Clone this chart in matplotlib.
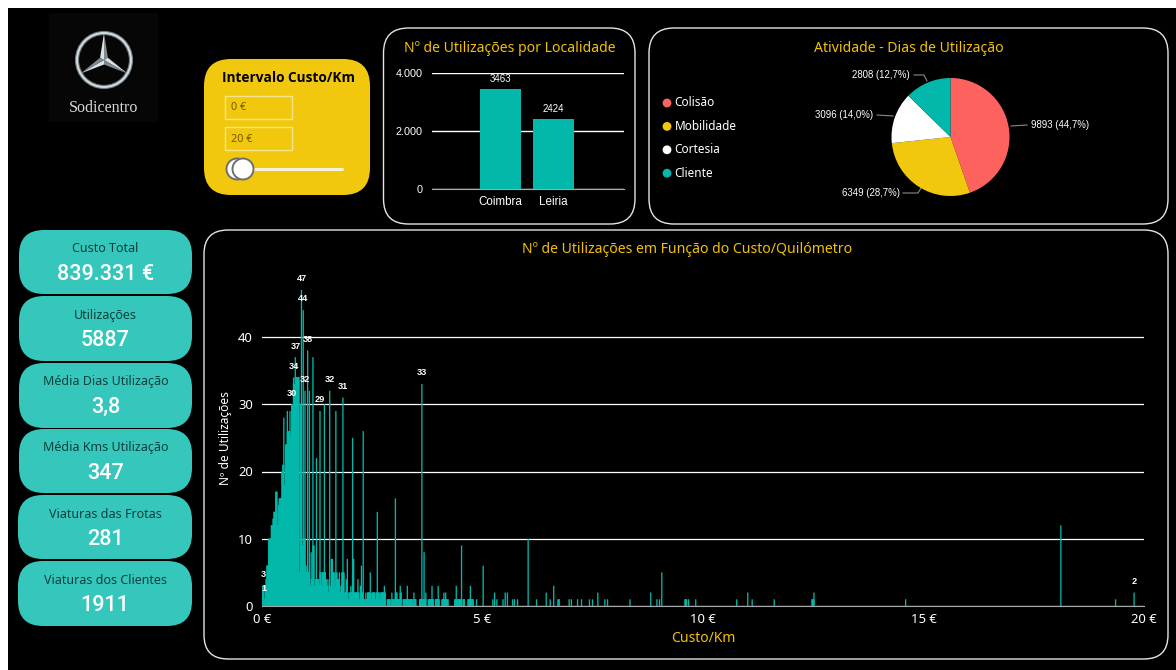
import numpy as np
import matplotlib
matplotlib.use("Agg")
import matplotlib.pyplot as plt
from matplotlib.patches import FancyBboxPatch, Circle, Polygon, Rectangle

plt.rcParams['font.family'] = ['Noto Sans', 'DejaVu Sans']

# ---- data -----------------------------------------------------------------
kpi_labels = ["Custo Total", "Utilizações", "Média Dias Utilização",
              "Média Kms Utilização", "Viaturas das Frotas", "Viaturas dos Clientes"]
kpi_values = ["839.331 €", "5887", "3,8", "347", "281", "1911"]

localities = ["Coimbra", "Leiria"]
locality_uses = [3463, 2424]
locality_ticks = [0, 2000, 4000]
locality_tick_labels = ["0", "2.000", "4.000"]

activities = ["Colisão", "Mobilidade", "Cortesia", "Cliente"]
activity_days = [9893, 6349, 3096, 2808]
activity_pcts = ["44,7%", "28,7%", "14,0%", "12,7%"]

# uses per cost bin, 0.02 € apart, from 0 € up to 2.78 €
dense_uses = [
    3, 3, 1, 3, 4, 6, 6, 10, 10, 10, 12, 12, 13, 14, 14, 17, 17, 12, 15, 16,
    16, 16, 20, 21, 28, 18, 24, 24, 29, 26, 26, 29, 25, 30, 30, 34, 33, 37, 34, 34,
    34, 34, 5, 30, 47, 9, 44, 10, 32, 6, 5, 38, 5, 32, 3, 8, 4, 37, 9, 3,
    4, 22, 4, 4, 3, 29, 5, 3, 5, 5, 30, 5, 4, 3, 4, 2, 32, 3, 7, 7,
    5, 5, 3, 29, 5, 4, 4, 5, 2, 3, 5, 31, 5, 2, 2, 4, 7, 1, 2, 2,
    3, 2, 25, 7, 2, 2, 2, 2, 4, 2, 1, 3, 6, 2, 26, 1, 1, 2, 1, 2,
    2, 2, 5, 1, 2, 2, 2, 2, 1, 2, 14, 2, 2, 1, 2, 2, 2, 2, 3, 2,
]
# individually read bins above 2.80 €
sparse_costs = [
    2.83, 2.86, 2.89, 2.93, 2.96, 2.98, 3.01, 3.04, 3.07, 3.10, 3.12, 3.14,
    3.19, 3.22, 3.25, 3.28, 3.31, 3.34, 3.36, 3.39, 3.43, 3.45, 3.47,
    3.56, 3.58, 3.61, 3.63, 3.66, 3.68, 3.70, 3.76, 3.79, 3.82, 3.84, 3.87,
    3.92, 3.95, 3.98, 4.00, 4.07, 4.09, 4.11, 4.13, 4.15, 4.17, 4.20,
    4.36, 4.39, 4.42, 4.45, 4.48, 4.51, 4.55, 4.57, 4.66, 4.69, 4.71, 4.73, 4.75, 4.77,
    4.85, 5.00, 5.22, 5.26, 5.31, 5.45, 5.50, 5.55, 5.67, 5.71, 5.78, 6.02, 6.21,
    6.43, 6.52, 6.60, 6.70, 6.72, 6.95, 7.00, 7.14, 7.23, 7.41, 7.48, 7.60, 7.76, 7.82,
    8.33, 8.80, 8.94, 9.00, 9.05, 9.58, 9.61, 9.66, 9.82, 10.75, 11.00, 11.10, 11.60,
    12.46, 12.50, 14.58, 18.10, 19.34, 19.76,
]
sparse_uses = [
    1, 1, 1, 2, 1, 1, 16, 2, 1, 1, 3, 2,
    1, 1, 1, 3, 1, 1, 1, 1, 2, 1, 1,
    1, 1, 33, 1, 8, 1, 2, 1, 1, 1, 3, 1,
    1, 1, 3, 1, 1, 1, 2, 1, 2, 1, 1,
    1, 3, 1, 1, 1, 9, 1, 1, 1, 1, 3, 1, 1, 1,
    1, 6, 1, 2, 1, 1, 2, 2, 1, 1, 1, 10, 1,
    2, 1, 3, 1, 1, 1, 1, 1, 1, 1, 1, 2, 1, 1,
    1, 2, 1, 1, 5, 1, 1, 1, 1, 1, 2, 1, 1,
    1, 2, 1, 12, 1, 2,
]
labelled_costs = [0.02, 0.04, 0.66, 0.70, 0.74, 0.88, 0.92, 0.96, 1.02,
                  1.30, 1.52, 1.82, 3.61, 19.76]
cost_ticks = [0, 5, 10, 15, 20]
cost_tick_labels = ["0 €", "5 €", "10 €", "15 €", "20 €"]
use_ticks = [0, 10, 20, 30, 40]

# ---- palette and fonts ----------------------------------------------------
TEAL = "#01B8AA"
CARD = "#35C7BC"
YELLOW = "#F2C80F"
RED = "#FD625E"
TITLE = "#F2C200"
NARROW = ['Liberation Sans', 'DejaVu Sans']
W, H = 1176, 670

fig = plt.figure(figsize=(W / 100, H / 100), dpi=100, facecolor="white")
page = fig.add_axes([0, 0, 1, 1], zorder=0)
page.set_xlim(0, W)
page.set_ylim(H, 0)
page.axis("off")


def chart_axes(x0, y0, x1, y1):
    """Axes placed by its pixel box, measured from the top left corner."""
    ax = fig.add_axes([x0 / W, 1 - y1 / H, (x1 - x0) / W, (y1 - y0) / H], zorder=2)
    ax.set_facecolor("none")
    for s in ax.spines.values():
        s.set_visible(False)
    return ax


def panel(x0, y0, x1, y1, r, fc="black", ec="none", lw=1.0):
    page.add_patch(FancyBboxPatch((x0, y0), x1 - x0, y1 - y0,
                                  boxstyle=f"round,pad=0,rounding_size={r}",
                                  fc=fc, ec=ec, lw=lw))


page.add_patch(Rectangle((8, 8), W, H, fc="black", ec="none"))

# ---- logo -----------------------------------------------------------------
page.add_patch(Rectangle((49, 13), 109, 109, fc="#060606", ec="none"))
cx, cy = 104, 60
page.add_patch(Circle((cx, cy), 27, fc="none", ec="#6F7B80", lw=3.0))
page.add_patch(Circle((cx, cy), 27, fc="none", ec="#D5DBDD", lw=1.4))
for ang in (90, 210, 330):
    a = np.radians(ang)
    tip = (cx + 27 * np.cos(a), cy - 27 * np.sin(a))
    left = (cx + 4.5 * np.cos(a + np.pi / 3), cy - 4.5 * np.sin(a + np.pi / 3))
    right = (cx + 4.5 * np.cos(a - np.pi / 3), cy - 4.5 * np.sin(a - np.pi / 3))
    page.add_patch(Polygon([(cx, cy), left, tip], fc="#DCE2E4", ec="none"))
    page.add_patch(Polygon([(cx, cy), right, tip], fc="#7F8C91", ec="none"))
page.text(104, 108.5, "Sodicentro", color="#D8D8D8", fontsize=11.5,
          family=['Liberation Serif', 'DejaVu Serif'], ha="center", va="center")

# ---- cost range slicer ----------------------------------------------------
panel(204, 59, 370, 195, 27, fc=YELLOW)
page.text(288, 78, "Intervalo Custo/Km", color="black", fontsize=9.8,
          fontweight="bold", family=['Open Sans', 'DejaVu Sans'], ha="center", va="center")
for y0, txt in ((96, "0 €"), (127, "20 €")):
    page.add_patch(Rectangle((224.5, y0), 67.5, 23, fc="none", ec="#F6E58E", lw=1.0))
    page.text(231, y0 + 12, txt, color="#6E5B00", fontsize=7.8, ha="left", va="center")
page.plot([240, 342], [169, 169], color="#F4F1DC", lw=2.2, solid_capstyle="round")
for tx in (237, 243):
    page.add_patch(Circle((tx, 169), 10.5, fc="white", ec="#6E6E6E", lw=1.4, zorder=3))

# ---- KPI cards ------------------------------------------------------------
card_boxes = [(19, 230, 192, 294), (19, 296, 192, 361), (19, 363, 192, 428),
              (19, 429, 192, 493), (18, 495, 192, 559), (18, 561, 192, 626)]
for (x0, y0, x1, y1), lab, val in zip(card_boxes, kpi_labels, kpi_values):
    panel(x0, y0, x1, y1, 25, fc=CARD)
    mid = (x0 + x1) / 2
    page.text(mid, y0 + 19, lab, color="#0E3F3C", fontsize=9, ha="center", va="center")
    page.text(mid, y0 + 44.5, val, color="white", fontsize=15.5, fontweight="medium",
              family=['Roboto', 'DejaVu Sans'], ha="center", va="center")

# ---- framed panels --------------------------------------------------------
panel(383.5, 28, 635, 224, 25, ec="#E4E4E4")
panel(649, 28, 1168, 224, 25, ec="#E4E4E4")
panel(204, 230, 1168, 659, 24, ec="#E4E4E4")

page.text(510, 48.5, "Nº de Utilizações por Localidade", color=TITLE, fontsize=10.1,
          ha="center", va="center")
page.text(909, 48.5, "Atividade - Dias de Utilização", color=TITLE, fontsize=10.1,
          ha="center", va="center")
page.text(687, 249.5, "Nº de Utilizações em Função do Custo/Quilómetro", color=TITLE,
          fontsize=10.1, ha="center", va="center")

# ---- uses per locality ----------------------------------------------------
ax_bar = chart_axes(432, 73, 624, 189)
pos = np.arange(len(localities))
ax_bar.bar(pos, locality_uses, width=0.764, color=TEAL, zorder=3)
ax_bar.set_xlim(-1.292, 2.33)
ax_bar.set_ylim(0, 4000)
ax_bar.set_xticks(pos, localities)
ax_bar.set_yticks(locality_ticks, locality_tick_labels)
ax_bar.grid(axis="y", color="white", lw=1.0, zorder=1)
ax_bar.set_axisbelow(True)
ax_bar.tick_params(length=0, colors="white")
ax_bar.tick_params(axis="y", pad=6.5)
ax_bar.tick_params(axis="x", pad=5)
ax_bar.spines["bottom"].set_visible(True)
ax_bar.spines["bottom"].set_color("#A8A8A8")
for lbl in ax_bar.get_xticklabels():
    lbl.set_family(NARROW)
    lbl.set_fontsize(8.4)
for lbl in ax_bar.get_yticklabels():
    lbl.set_family(NARROW)
    lbl.set_fontsize(7.8)
for x, v in zip(pos, locality_uses):
    ax_bar.annotate(str(v), (x, v), xytext=(0, 7), textcoords="offset points",
                    color="white", fontsize=7.0, family=NARROW, ha="center", va="center",
                    clip_on=False)

# ---- activity pie ---------------------------------------------------------
ax_pie = chart_axes(891.5, 78, 1009.5, 196)
ax_pie.pie(activity_days, colors=[RED, YELLOW, "white", TEAL], startangle=90,
           counterclock=False, radius=1.0)
ax_pie.set_xlim(-1, 1)
ax_pie.set_ylim(-1, 1)
ax_pie.set_aspect("equal")

for i, name in enumerate(activities):
    y = 103 + i * 23.4
    page.add_patch(Circle((667, y), 4.4, fc=[RED, YELLOW, "white", TEAL][i], ec="none"))
    page.text(674.5, y, name, color="white", fontsize=8.5, ha="left", va="center")

# label anchor and leader polyline, in layout pixels
pie_label_layout = [
    (1031, 125, "left", [(1011, 126), (1027, 125)]),
    (900, 193, "right", [(921, 188), (918, 193), (903, 193)]),
    (873, 115, "right", [(893, 116), (877, 115)]),
    (910, 75, "right", [(927, 81), (924, 75), (914, 75)]),
]
for (tx, ty, ha, path), v, p in zip(pie_label_layout, activity_days, activity_pcts):
    page.text(tx, ty, f"{v} ({p})", color="white", fontsize=6.9, family=NARROW,
              ha=ha, va="center")
    page.plot(*zip(*path), color="#8A8A8A", lw=0.8)

# ---- uses against cost per km ---------------------------------------------
ax_hist = chart_axes(262, 235, 1144, 606)
dense_costs = np.round(np.arange(len(dense_uses)) * 0.02, 2)
all_costs = np.concatenate([dense_costs, sparse_costs])
all_uses = np.concatenate([dense_uses, sparse_uses])
BAR_W = 0.03
hist_bars = ax_hist.bar(all_costs, all_uses, width=BAR_W, align="edge", color=TEAL, lw=0, zorder=3)
# neighbouring bins close the gaps up to the lower of their two heights
gaps = np.diff(all_costs)
close = gaps < 0.04
joins = ax_hist.bar(all_costs[:-1][close], np.minimum(all_uses[:-1], all_uses[1:])[close],
                    width=gaps[close] + BAR_W, align="edge", color=TEAL, lw=0, zorder=3)
# thin bars keep their true width instead of snapping to whole pixels
for b in list(hist_bars) + list(joins):
    b.set_snap(False)
ax_hist.set_xlim(0, 20)
ax_hist.set_ylim(0, 371 / 6.725)
ax_hist.set_xticks(cost_ticks, cost_tick_labels)
ax_hist.set_yticks(use_ticks)
ax_hist.grid(axis="y", color="white", lw=0.9, zorder=1)
ax_hist.set_axisbelow(True)
ax_hist.tick_params(length=0, colors="white")
ax_hist.tick_params(axis="y", pad=6.5)
ax_hist.tick_params(axis="x", pad=5)
ax_hist.spines["bottom"].set_visible(True)
ax_hist.spines["bottom"].set_color("#A8A8A8")
for lbl in ax_hist.get_xticklabels() + ax_hist.get_yticklabels():
    lbl.set_fontsize(9.4)
for c in labelled_costs:
    k = int(np.argmin(np.abs(all_costs - c)))
    ax_hist.annotate(str(int(all_uses[k])), (all_costs[k], all_uses[k]), xytext=(0.5, 8),
                     textcoords="offset points", color="white", fontsize=6.6,
                     family=NARROW, fontweight="bold", ha="center", va="center",
                     annotation_clip=False, zorder=5)
page.text(703, 639, "Custo/Km", color=TITLE, fontsize=10, ha="center", va="center")
page.text(225, 438, "Nº de Utilizações", color="white", fontsize=8.6, rotation=90,
          ha="center", va="center")

fig.savefig("out.png", dpi=100, facecolor="white")
